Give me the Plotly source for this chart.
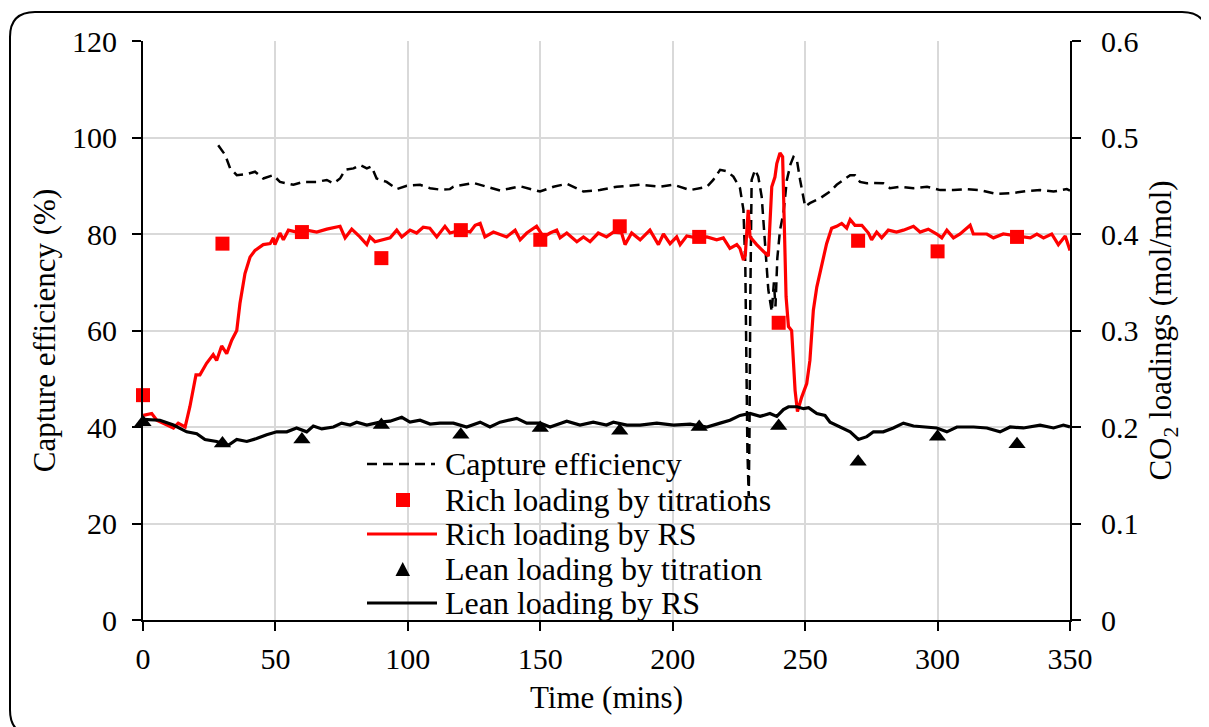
import plotly.graph_objects as go

# ---------------- data ----------------
ce_time = [28.4, 31.0, 32.9, 35.4, 39.2, 42.3, 45.4, 49.2, 51.7, 56.8, 60.5, 65.6, 69.4, 71.9, 74.4, 76.3,
           79.5, 81.9, 84.5, 86.3, 88.2, 92.0, 95.8, 99.6, 104.6, 108.4, 112.1, 115.9, 117.2, 124.7, 129.7,
           134.8, 142.4, 149.9, 155.0, 160.0, 166.3, 172.5, 178.9, 187.7, 195.2, 200.3, 206.6, 212.9, 215.3,
           217.9, 220.4, 222.9, 225.4, 226.7, 227.4, 227.8, 228.2, 228.7, 229.0, 229.3, 229.8, 231.1, 232.3,
           233.6, 234.9, 236.1, 237.4, 238.2, 238.8, 239.5, 240.5, 241.8, 243.1, 244.5, 245.6, 246.8, 248.1,
           250.0, 251.8, 255.6, 259.4, 261.9, 264.4, 267.0, 268.8, 270.7, 273.3, 275.8, 279.5, 282.0, 285.8,
           290.9, 296.0, 301.0, 306.0, 311.0, 316.0, 322.3, 328.6, 333.7, 338.7, 343.8, 348.8, 350.0]
ce_value = [98.4, 96.4, 93.6, 92.2, 92.4, 92.9, 91.5, 92.2, 90.8, 90.2, 90.8, 90.8, 91.2, 90.5, 91.5, 93.3,
            93.6, 94.3, 93.6, 94.0, 91.5, 90.8, 89.3, 90.0, 90.2, 89.5, 89.2, 89.3, 89.8, 90.6, 89.8,
            89.0, 89.9, 88.8, 89.8, 90.4, 88.8, 89.1, 89.8, 90.2, 89.8, 90.2, 89.1, 89.8, 91.2,
            93.3, 93.0, 91.9, 89.5, 85.0, 73.9, 53.2, 35.2, 25.6, 39.4, 67.0, 91.2, 93.3, 91.9,
            87.7, 77.4, 68.4, 63.9, 70.0, 65.0, 75.0, 80.8, 84.3, 91.2, 94.5, 96.0, 95.6, 91.2,
            85.7, 86.4, 87.4, 88.8, 90.2, 91.2, 92.2, 92.2, 90.8, 90.5, 90.6, 90.5, 89.5, 89.8,
            89.5, 89.8, 89.1, 89.1, 89.3, 89.1, 88.3, 88.5, 88.9, 89.1, 88.8, 89.3, 89.0]

rich_rs_time = [0.1, 3.3, 5.2, 11.5, 13.3, 15.9, 17.7, 20.0, 21.5, 24.0, 26.5, 27.8, 29.7, 31.6, 33.5, 35.4,
                36.6, 38.5, 40.4, 42.3, 45.4, 48.0, 49.2, 49.8, 51.7, 53.0, 54.9, 58.0, 61.8, 65.6, 69.4,
                74.4, 76.3, 78.8, 81.9, 84.5, 85.7, 87.6, 93.3, 95.8, 97.7, 100.8, 103.3, 105.8, 108.3,
                110.9, 114.0, 115.9, 120.0, 123.5, 125.4, 127.3, 129.1, 132.3, 137.3, 140.5, 142.4, 144.9,
                148.6, 151.2, 153.7, 156.2, 157.5, 160.0, 163.8, 166.3, 168.8, 171.9, 175.0, 177.6, 180.7,
                182.0, 184.5, 187.7, 191.4, 194.6, 196.5, 199.0, 201.5, 202.8, 205.3, 209.0, 212.9, 216.6,
                219.1, 221.6, 224.2, 225.4, 226.7, 227.4, 228.5, 229.2, 231.7, 236.1, 237.4, 238.6, 239.3,
                240.5, 241.5, 241.8, 242.8, 243.7, 244.9, 246.2, 247.1, 248.7, 250.6, 251.8, 253.1, 254.4,
                256.3, 258.1, 260.0, 261.9, 263.8, 265.7, 267.0, 268.8, 271.4, 273.9, 275.1, 277.0, 278.9,
                281.4, 284.5, 287.1, 290.9, 293.4, 296.5, 299.7, 301.6, 303.5, 306.0, 308.5, 312.3, 313.5,
                318.6, 321.1, 324.8, 329.9, 335.0, 337.5, 340.0, 343.1, 345.6, 348.2, 350.0]
rich_rs_value = [0.212, 0.214, 0.207, 0.199, 0.204, 0.200, 0.221, 0.254, 0.254, 0.266, 0.275, 0.269, 0.284,
                 0.276, 0.290, 0.300, 0.328, 0.359, 0.376, 0.383, 0.389, 0.390, 0.396, 0.389, 0.401, 0.394,
                 0.404, 0.402, 0.404, 0.402, 0.405, 0.408, 0.396, 0.405, 0.397, 0.389, 0.397, 0.392, 0.396,
                 0.404, 0.397, 0.404, 0.401, 0.407, 0.406, 0.397, 0.408, 0.401, 0.404, 0.402, 0.409, 0.411,
                 0.397, 0.402, 0.397, 0.404, 0.394, 0.401, 0.408, 0.397, 0.401, 0.404, 0.396, 0.401, 0.392,
                 0.397, 0.392, 0.401, 0.397, 0.402, 0.401, 0.389, 0.401, 0.394, 0.404, 0.389, 0.400, 0.390,
                 0.397, 0.389, 0.398, 0.396, 0.397, 0.394, 0.396, 0.385, 0.389, 0.385, 0.373, 0.378, 0.425,
                 0.397, 0.389, 0.377, 0.449, 0.459, 0.473, 0.484, 0.480, 0.439, 0.335, 0.304, 0.300, 0.238,
                 0.216, 0.231, 0.245, 0.269, 0.321, 0.345, 0.370, 0.390, 0.406, 0.408, 0.411, 0.406, 0.415,
                 0.409, 0.409, 0.401, 0.394, 0.402, 0.396, 0.404, 0.402, 0.404, 0.408, 0.402, 0.405, 0.400,
                 0.396, 0.404, 0.396, 0.400, 0.409, 0.400, 0.400, 0.396, 0.400, 0.398, 0.396, 0.400, 0.396,
                 0.400, 0.389, 0.398, 0.383]

lean_rs_time = [0.0, 6.4, 11.5, 16.5, 20.3, 23.4, 27.8, 32.2, 35.4, 39.2, 42.9, 46.7, 50.5, 54.3, 58.0, 61.8,
                64.3, 67.5, 71.9, 75.0, 78.2, 80.7, 84.5, 89.5, 93.3, 97.7, 100.8, 104.6, 108.4, 112.1, 117.2,
                122.2, 127.3, 131.0, 134.8, 141.1, 144.9, 150.0, 153.7, 160.0, 165.0, 170.0, 175.0, 177.6,
                182.7, 187.7, 194.0, 200.3, 206.6, 212.9, 217.9, 221.6, 225.4, 229.2, 233.0, 236.7, 239.3,
                241.8, 243.7, 246.9, 249.4, 251.3, 254.4, 257.5, 259.4, 263.2, 267.0, 270.1, 273.3, 275.8,
                279.5, 283.3, 287.1, 290.9, 296.0, 299.7, 303.5, 307.3, 313.6, 318.6, 323.6, 327.4, 332.4,
                338.7, 343.8, 347.5, 350.0]
lean_rs_value = [0.208, 0.207, 0.202, 0.195, 0.193, 0.187, 0.185, 0.181, 0.187, 0.185, 0.188, 0.192, 0.195,
                 0.195, 0.199, 0.195, 0.201, 0.198, 0.200, 0.204, 0.202, 0.205, 0.202, 0.205, 0.206, 0.210,
                 0.205, 0.207, 0.203, 0.204, 0.204, 0.200, 0.205, 0.200, 0.205, 0.209, 0.204, 0.204, 0.200,
                 0.206, 0.202, 0.205, 0.202, 0.205, 0.202, 0.202, 0.204, 0.202, 0.203, 0.200, 0.204, 0.207,
                 0.212, 0.214, 0.211, 0.214, 0.211, 0.218, 0.221, 0.221, 0.219, 0.220, 0.214, 0.212, 0.205,
                 0.200, 0.195, 0.187, 0.190, 0.195, 0.195, 0.199, 0.204, 0.201, 0.200, 0.199, 0.195, 0.200,
                 0.200, 0.199, 0.195, 0.200, 0.199, 0.202, 0.199, 0.202, 0.200]

titration_time = [0, 30, 60, 90, 120, 150, 180, 210, 240, 270, 300, 330]
rich_titration = [0.233, 0.390, 0.402, 0.375, 0.404, 0.394, 0.408, 0.397, 0.308, 0.393, 0.382, 0.397]
lean_titration = [0.205, 0.183, 0.187, 0.202, 0.192, 0.199, 0.196, 0.200, 0.201, 0.164, 0.190, 0.182]

legend_labels = ["Capture efficiency", "Rich loading by titrations", "Rich loading by RS",
                 "Lean loading by titration", "Lean loading by RS"]

x_ticks = [0, 50, 100, 150, 200, 250, 300, 350]
y_ticks = [0, 20, 40, 60, 80, 100, 120]
y2_ticks = [0, 0.1, 0.2, 0.3, 0.4, 0.5, 0.6]

# ---------------- figure ----------------
FONT = "Liberation Serif"
FS_TICK = 30
FS_TITLE = 31
FS_LEG = 32
OFF = 8                      # the page body margin
W, H = 1209 - OFF, 727 - OFF
L, T = 143 - OFF, 41 - OFF   # plot-area edges in figure pixels
R = W - (1070 - OFF)
B = H - (620 - OFF)
pw, ph = W - L - R, H - T - B


def px(xp):   # page pixel -> paper
    return (xp - OFF - L) / pw


def py(yp):
    return (H - B - (yp - OFF)) / ph


fig = go.Figure()

fig.add_trace(go.Scatter(x=ce_time, y=ce_value, mode="lines", name=legend_labels[0],
                         line=dict(color="black", width=2.5, dash="10px,6px"), yaxis="y"))
fig.add_trace(go.Scatter(x=rich_rs_time, y=rich_rs_value, mode="lines", name=legend_labels[2],
                         line=dict(color="#ff0000", width=3.2), yaxis="y2"))
fig.add_trace(go.Scatter(x=lean_rs_time, y=lean_rs_value, mode="lines", name=legend_labels[4],
                         line=dict(color="black", width=3.2), yaxis="y2"))
fig.add_trace(go.Scatter(x=titration_time, y=rich_titration, mode="markers", name=legend_labels[1],
                         marker=dict(symbol="square", size=14, color="#ff0000"), yaxis="y2",
                         cliponaxis=False))
fig.add_trace(go.Scatter(x=titration_time, y=lean_titration, mode="markers", name=legend_labels[3],
                         marker=dict(symbol="triangle-up", size=15, color="black"), yaxis="y2",
                         cliponaxis=False))

# manual legend (text + symbols) in paper coordinates
leg_y = [464, 500, 534, 569, 603]
ann = []
for lab, yy in zip(legend_labels, leg_y):
    ann.append(dict(x=px(443), y=py(yy), xref="paper", yref="paper", text=lab, showarrow=False,
                    xanchor="left", yanchor="middle", font=dict(family=FONT, size=FS_LEG, color="black")))

shapes = []
shapes.append(dict(type="line", xref="paper", yref="paper", x0=px(367), x1=px(435), y0=py(464), y1=py(464),
                   line=dict(color="black", width=2.5, dash="10px,6px")))
shapes.append(dict(type="rect", xref="paper", yref="paper", x0=px(396), x1=px(410), y0=py(507), y1=py(493),
                   fillcolor="#ff0000", line=dict(width=0)))
shapes.append(dict(type="line", xref="paper", yref="paper", x0=px(367), x1=px(437), y0=py(534), y1=py(534),
                   line=dict(color="#ff0000", width=3.2)))
shapes.append(dict(type="path", xref="paper", yref="paper",
                   path=f"M {px(395.5)},{py(576)} L {px(410)},{py(576)} L {px(402.7)},{py(562)} Z",
                   fillcolor="black", line=dict(width=0)))
shapes.append(dict(type="line", xref="paper", yref="paper", x0=px(367), x1=px(437), y0=py(603), y1=py(603),
                   line=dict(color="black", width=3.2)))

# rounded outer frame
x0, x1, y0, y1 = px(10), px(1207), py(735), py(12)
rx, ry = 25 / pw, 25 / ph
frame = (f"M {x0 + rx},{y1} L {x1 - rx},{y1} Q {x1},{y1} {x1},{y1 - ry} L {x1},{y0 + ry} "
         f"Q {x1},{y0} {x1 - rx},{y0} L {x0 + rx},{y0} Q {x0},{y0} {x0},{y0 + ry} "
         f"L {x0},{y1 - ry} Q {x0},{y1} {x0 + rx},{y1} Z")
shapes.append(dict(type="path", xref="paper", yref="paper", path=frame, line=dict(color="black", width=2)))

axis_common = dict(showline=True, linecolor="black", linewidth=2, ticks="outside", ticklen=9,
                   tickwidth=1.5, tickcolor="black", tickfont=dict(family=FONT, size=FS_TICK, color="black"),
                   zeroline=False)

fig.update_layout(
    width=W, height=H,
    margin=dict(l=L, r=R, t=T, b=B, autoexpand=False),
    paper_bgcolor="white", plot_bgcolor="white",
    showlegend=False,
    font=dict(family=FONT, size=FS_TICK, color="black"),
    xaxis=dict(range=[0, 350], tickvals=x_ticks, showgrid=True, gridcolor="#d9d9d9", gridwidth=1.5,
               title=dict(text="Time (mins)", standoff=12, font=dict(family=FONT, size=FS_TITLE)),
               ticklabelstandoff=2, **axis_common),
    yaxis=dict(range=[0, 120], tickvals=y_ticks, showgrid=True, gridcolor="#d9d9d9", gridwidth=1.5,
               title=dict(text="Capture efficiency (%)", standoff=7, font=dict(family=FONT, size=FS_TITLE)),
               ticklabelstandoff=9, **axis_common),
    yaxis2=dict(range=[0, 0.6], tickvals=y2_ticks, ticktext=[str(v) for v in y2_ticks], overlaying="y",
                side="right", showgrid=False,
                title=dict(text="CO<sub>2</sub> loadings (mol/mol)", standoff=12,
                           font=dict(family=FONT, size=FS_TITLE)),
                ticklabelstandoff=14, **axis_common),
    annotations=ann,
    shapes=shapes,
)

fig.write_html("out.html")
